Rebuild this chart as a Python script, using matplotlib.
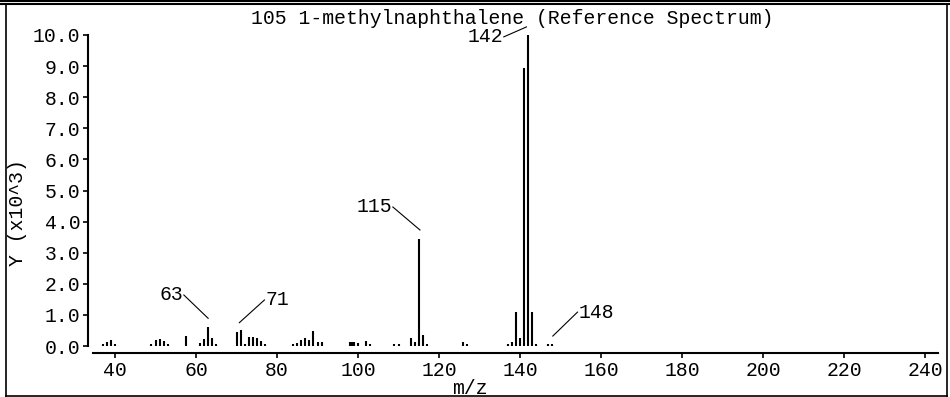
import matplotlib
matplotlib.use("Agg")
import matplotlib.pyplot as plt
from matplotlib.lines import Line2D

# peak list (m/z, intensity in 10^3)
mz = [37, 38, 39, 40,
      49, 50, 51, 52, 53,
      57.5,
      61, 62, 63, 64, 65,
      70, 71, 72, 73, 74, 75, 76, 77,
      84, 85, 86, 87, 88, 89, 90, 91,
      98, 98.5, 99, 100, 102, 103,
      109, 110,
      113, 114, 115, 116, 117,
      126, 127,
      137, 138, 139, 140, 141, 142, 143, 144,
      147, 148]
intensity = [0.06, 0.12, 0.20, 0.05,
             0.06, 0.20, 0.22, 0.15, 0.05,
             0.32,
             0.10, 0.22, 0.62, 0.25, 0.07,
             0.45, 0.52, 0.06, 0.30, 0.28, 0.25, 0.15, 0.05,
             0.05, 0.10, 0.20, 0.25, 0.20, 0.48, 0.12, 0.12,
             0.12, 0.12, 0.12, 0.10, 0.15, 0.05,
             0.07, 0.07,
             0.27, 0.13, 3.45, 0.35, 0.05,
             0.13, 0.06,
             0.05, 0.12, 1.10, 0.27, 8.95, 10.0, 1.10, 0.07,
             0.07, 0.07]

# labelled peaks: text, text anchor (x, y), leader line end (x, y), alignment
labels = ["142", "115", "63", "71", "148"]
label_xy = [(135.8, 9.94), (108.4, 4.47), (56.8, 1.64), (77.1, 1.48), (154.4, 1.09)]
leader_end = [(141.6, 10.26), (115.3, 3.73), (63.0, 0.89), (70.7, 0.75), (148.1, 0.32)]
label_ha = ["right", "right", "right", "left", "left"]

xticks = [40, 60, 80, 100, 120, 140, 160, 180, 200, 220, 240]
yticks = [0, 1, 2, 3, 4, 5, 6, 7, 8, 9, 10]

W, H = 950, 397
FONT = "Liberation Mono"
FS = 14.2

plt.rcParams["font.family"] = [FONT, "DejaVu Sans Mono"]
fig = plt.figure(figsize=(W / 100, H / 100), dpi=100)


def px(x, y):
    return x / W, 1 - y / H


# axes frame: y spine at x=88, 0.0 at y=346, 10.0 at y=35
left, right = 88, 938
x0 = 40 - (115 - left) / 4.05
x1 = 40 + (right - 115) / 4.05
ax = fig.add_axes([left / W, (H - 346) / H, (right - left) / W, (346 - 35) / H])
ax.set_xlim(x0, x1)
ax.set_ylim(0, 10)

ax.vlines(mz, 0, intensity, color="black", linewidth=1.5)

for t, (tx, ty), (ex, ey), ha in zip(labels, label_xy, leader_end, label_ha):
    ax.plot([tx + (0.2 if ha == "right" else -0.2), ex], [ty, ey],
            color="black", linewidth=0.8, clip_on=False)
    ax.text(tx, ty, t, ha=ha, va="center", fontsize=FS, clip_on=False)

for s in ["top", "right"]:
    ax.spines[s].set_visible(False)
ax.spines["left"].set_bounds(0, 10)
ax.spines["bottom"].set_position(("outward", 5))
ax.spines["bottom"].set_bounds(40 - (115 - 93) / 4.05, x1)
for s in ["left", "bottom"]:
    ax.spines[s].set_linewidth(1.5)

ax.set_xticks(xticks)
ax.set_xticklabels([str(v) for v in xticks])
ax.set_yticks(yticks)
ax.set_yticklabels([f"{v:.1f}" for v in yticks])
ax.tick_params(axis="both", direction="out", length=3.5, width=1.2, labelsize=FS)
ax.tick_params(axis="x", pad=2)
ax.tick_params(axis="y", pad=2)

fig.text(*px(512, 19), "105 1-methylnaphthalene (Reference Spectrum)",
         ha="center", va="center", fontsize=FS)
fig.text(*px(470, 388), "m/z", ha="center", va="center", fontsize=FS)
fig.text(*px(18, 213), "Y (x10^3)", ha="center", va="center", rotation=90, fontsize=FS)

# window border
for (xa, ya), (xb, yb), lw in [((0, 1), (W, 1), 1.5), ((0, 4), (W, 4), 1.5),
                               ((5.5, 4), (5.5, H), 1.2), ((946.5, 4), (946.5, H), 1.2),
                               ((5.5, 395.5), (946.5, 395.5), 1.2)]:
    fig.add_artist(Line2D([xa / W, xb / W], [1 - ya / H, 1 - yb / H],
                          transform=fig.transFigure, color="black", linewidth=lw))

fig.savefig("out.png", dpi=100)
